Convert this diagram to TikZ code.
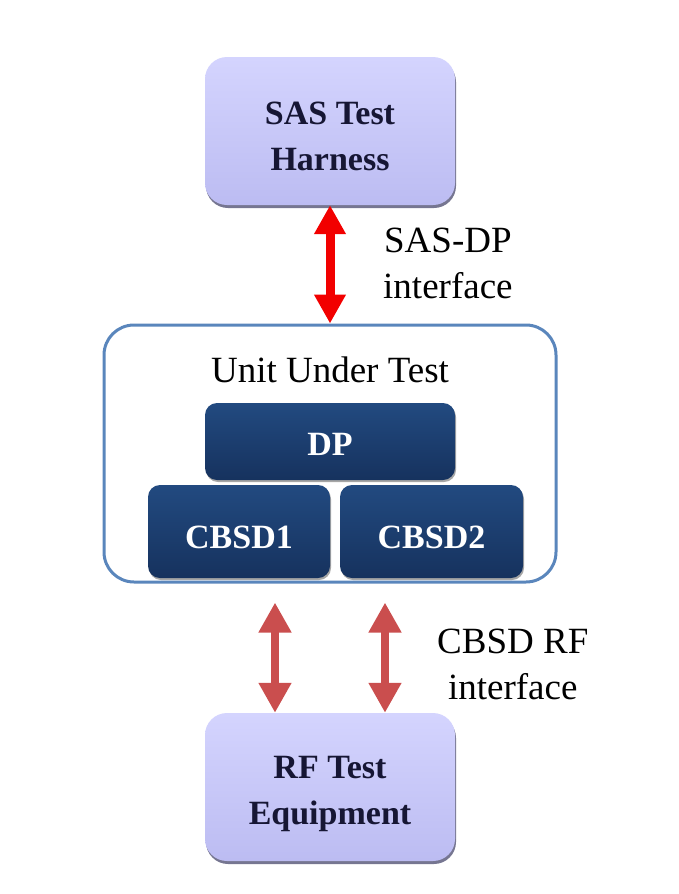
\documentclass[tikz,border=0pt]{standalone}
\usepackage{fontspec}
\setmainfont{Liberation Serif}
\usetikzlibrary{arrows.meta, shadows}

\definecolor{lavtop}{RGB}{212,212,254}
\definecolor{lavbot}{RGB}{188,188,242}
\definecolor{navytop}{RGB}{34,74,128}
\definecolor{navybot}{RGB}{22,50,94}
\definecolor{uutline}{RGB}{90,134,188}
\definecolor{sasred}{RGB}{242,0,0}
\definecolor{rfred}{RGB}{202,78,78}
\definecolor{boxtext}{RGB}{22,22,52}

\newcommand{\topgap}[1]{\rule{0pt}{#1}}

\tikzset{
    testbox/.style={rounded corners=22pt, minimum width=250pt, minimum height=148pt,
        inner sep=0pt, top color=lavtop, bottom color=lavbot, text=boxtext, align=center,
        font=\fontsize{34}{46}\selectfont\bfseries,
        drop shadow={shadow xshift=1pt, shadow yshift=-3pt, fill=black!45!lavbot, opacity=0.9}},
    unitbox/.style={rounded corners=12pt, inner sep=0pt, top color=navytop, bottom color=navybot,
        text=white, font=\fontsize{34}{40}\selectfont\bfseries,
        drop shadow={shadow xshift=1pt, shadow yshift=-2pt, fill=black, opacity=0.35}},
    label/.style={inner sep=0pt, align=center, font=\fontsize{37}{46}\selectfont},
    sasdp/.style={draw=sasred, line width=9pt,
        {Triangle[width=30pt,length=29pt]}-{Triangle[width=30pt,length=29pt]}},
    rflink/.style={draw=rfred, line width=8pt,
        {Triangle[width=31pt,length=30pt]}-{Triangle[width=31pt,length=30pt]}}
}

\begin{document}
\begin{tikzpicture}[x=1pt, y=-1pt]
    \useasboundingbox (0,0) rectangle (678,894);

    \node[testbox] (harness) at (330,131) {\topgap{33pt}SAS Test\\Harness};
    \node[testbox] (rf) at (330,787) {\topgap{37pt}RF Test\\Equipment};

    \node[draw=uutline, line width=3pt, rounded corners=30pt, fill=white,
          minimum width=452pt, minimum height=257pt] (uut) at (330,453.5) {};
    \node[label, anchor=base] (uutlabel) at (330,382) {Unit Under Test};

    \node[unitbox, minimum width=250pt, minimum height=77pt] (dp) at (330,441.5) {\topgap{29pt}DP};
    \node[unitbox, minimum width=182pt, minimum height=93pt] (cbsd1) at (239,531.5) {\topgap{35pt}CBSD1};
    \node[unitbox, minimum width=183pt, minimum height=93pt] (cbsd2) at (431.5,531.5) {\topgap{35pt}CBSD2};

    \draw[sasdp] (harness.south) -- (uut.north);
    \draw[rflink, shorten <=19pt] ([xshift=-55pt]uut.south) -- ([xshift=-55pt]rf.north);
    \draw[rflink, shorten <=19pt] ([xshift=55pt]uut.south) -- ([xshift=55pt]rf.north);

    \node[label, anchor=west] (sasdplabel) at (383,263) {SAS-DP\\interface};
    \node[label, anchor=west] (rflabel) at (437,664) {CBSD RF\\interface};
\end{tikzpicture}
\end{document}
